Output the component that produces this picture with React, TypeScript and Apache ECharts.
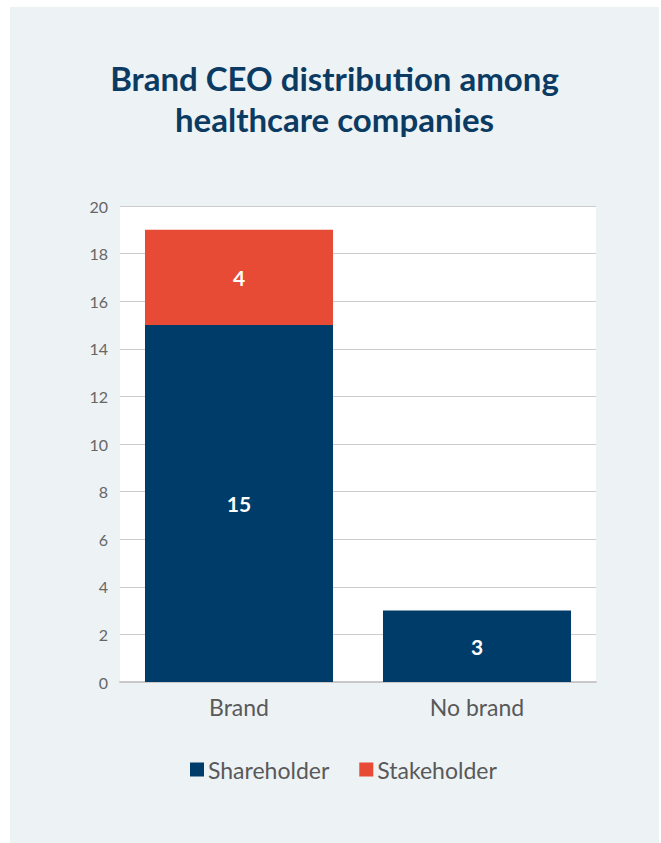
import React, { useEffect, useRef } from "react";
import * as echarts from "echarts";

const categories = ["Brand", "No brand"];
const shareholder = [15, 3];
const stakeholder = [4, null];
const seriesNames = ["Shareholder", "Stakeholder"];
const titleText = "Brand CEO distribution among\nhealthcare companies";

const FONT = "Lato, 'Noto Sans', sans-serif";

export default function App() {
  const ref = useRef<HTMLDivElement>(null);
  useEffect(() => {
    if (!ref.current) return;
    const chart = echarts.init(ref.current, undefined, { renderer: "svg" });
    chart.setOption({
      animation: false,
      backgroundColor: "#edf2f5",
      title: {
        text: titleText,
        left: "center",
        top: 45,
        textStyle: {
          fontFamily: FONT,
          fontWeight: "bold",
          fontSize: 33,
          lineHeight: 41,
          color: "#0b3b62",
        },
      },
      legend: {
        top: 746,
        left: 175,
        itemWidth: 14,
        itemHeight: 14,
        itemGap: 30,
        icon: "rect",
        textStyle: { fontFamily: FONT, fontSize: 23, color: "#595959", padding: [0, 0, 0, -1] },
        data: seriesNames,
      },
      grid: {
        left: 110,
        right: 63,
        top: 199,
        bottom: 161,
        show: true,
        backgroundColor: "#ffffff",
        borderWidth: 0,
      },
      xAxis: {
        type: "category",
        data: categories,
        axisLine: { lineStyle: { color: "#c8c8c8", width: 2 } },
        axisTick: { show: false },
        axisLabel: { fontFamily: FONT, fontSize: 23, color: "#595959", margin: 13 },
      },
      yAxis: {
        type: "value",
        min: 0,
        max: 20,
        interval: 2,
        axisLine: { show: false },
        axisTick: { show: false },
        splitLine: { lineStyle: { color: "#cccccc", width: 1 } },
        axisLabel: { fontFamily: FONT, fontSize: 16, color: "#666666", margin: 12 },
      },
      series: [
        {
          name: seriesNames[0],
          type: "bar",
          stack: "total",
          data: shareholder,
          barCategoryGap: "21%",
          itemStyle: { color: "#003c69" },
          label: {
            show: true,
            position: "inside",
            color: "#ffffff",
            fontFamily: FONT,
            fontWeight: "bold",
            fontSize: 21,
          },
        },
        {
          name: seriesNames[1],
          type: "bar",
          stack: "total",
          data: stakeholder,
          barCategoryGap: "21%",
          itemStyle: { color: "#e84b35" },
          label: {
            show: true,
            position: "inside",
            color: "#ffffff",
            fontFamily: FONT,
            fontWeight: "bold",
            fontSize: 21,
          },
        },
      ],
    });
    return () => chart.dispose();
  }, []);
  return (
    <div
      ref={ref}
      style={{ position: "absolute", left: 10, top: 7, width: 649, height: 836 }}
    />
  );
}
